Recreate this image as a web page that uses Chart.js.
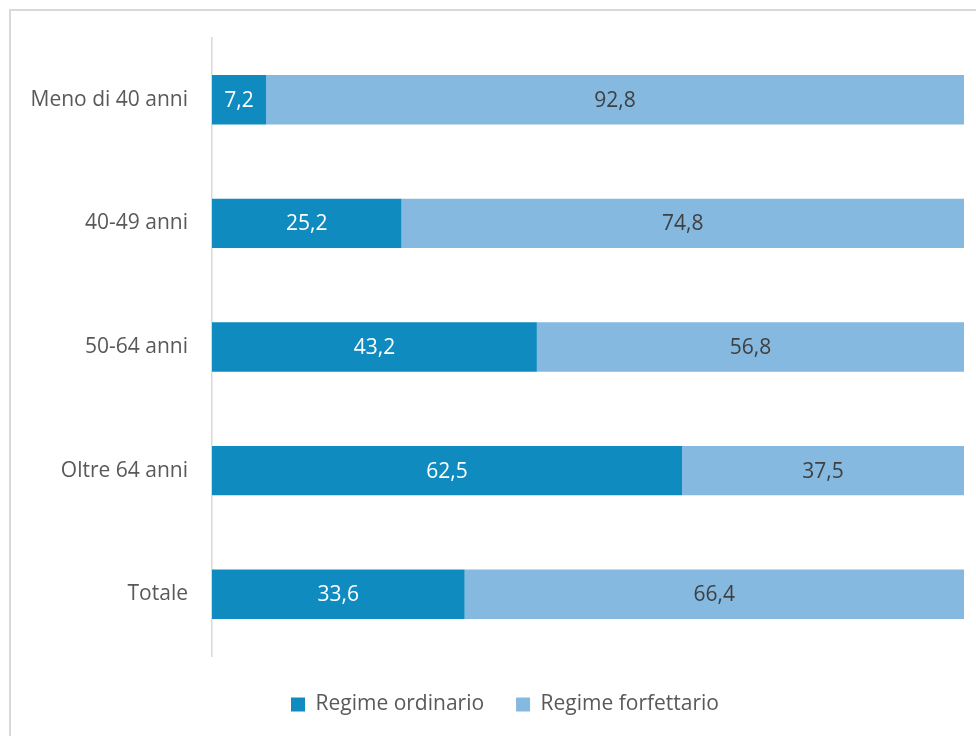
<!DOCTYPE html>
<html>
<head>
<meta charset="utf-8">
<script src="https://cdn.jsdelivr.net/npm/chart.js@4"></script>
<style>
  html, body { margin: 0; padding: 0; background: #fff; }
  #wrap { position: relative; width: 976px; height: 736px; }
</style>
</head>
<body>
<div id="wrap"><canvas id="myChart" width="976" height="736"></canvas></div>
<script>
// Data
const categories = ['Meno di 40 anni', '40-49 anni', '50-64 anni', 'Oltre 64 anni', 'Totale'];
const ordinario = [7.2, 25.2, 43.2, 62.5, 33.6];
const forfettario = [92.8, 74.8, 56.8, 37.5, 66.4];

// Style
const FONT = "'Open Sans', sans-serif";
const darkBlue = '#0f8bbf';
const lightBlue = '#85b9e0';
const textGrey = '#595959';

// Outer frame of the chart
const framePlugin = {
  id: 'frame',
  beforeDraw(chart) {
    const c = chart.ctx;
    c.save();
    c.strokeStyle = '#d9d9d9';
    c.lineWidth = 2;
    c.strokeRect(10, 10, 1200, 1200);
    c.restore();
  }
};

// Legend in the original sits a bit right of the canvas centre
const legendShift = {
  id: 'legendShift',
  afterInit(chart) {
    const legend = chart.legend;
    if (!legend) return;
    const draw = legend.draw.bind(legend);
    legend.draw = function () {
      const c = chart.ctx;
      c.save();
      c.translate(23, 0);
      draw();
      c.restore();
    };
  }
};

// Value labels in the middle of each segment
const valueLabels = {
  id: 'valueLabels',
  afterDatasetsDraw(chart) {
    const c = chart.ctx;
    c.save();
    c.font = '21px ' + FONT;
    c.textAlign = 'center';
    c.textBaseline = 'middle';
    chart.data.datasets.forEach((ds, i) => {
      chart.getDatasetMeta(i).data.forEach((bar, j) => {
        const p = bar.getProps(['x', 'y', 'base'], true);
        c.fillStyle = i === 0 ? '#ffffff' : '#404040';
        c.fillText(ds.data[j].toFixed(1).replace('.', ','), (p.x + p.base) / 2, p.y + 1);
      });
    });
    c.restore();
  }
};

const ctx = document.getElementById('myChart').getContext('2d');

const myChart = new Chart(ctx, {
  type: 'bar',
  data: {
    labels: categories,
    datasets: [
      {
        label: 'Regime ordinario',
        data: ordinario,
        backgroundColor: darkBlue,
        barPercentage: 0.4,
        categoryPercentage: 1
      },
      {
        label: 'Regime forfettario',
        data: forfettario,
        backgroundColor: lightBlue,
        barPercentage: 0.4,
        categoryPercentage: 1
      }
    ]
  },
  options: {
    indexAxis: 'y',
    responsive: false,
    animation: false,
    layout: { padding: { top: 38, right: 12, left: 0, bottom: 11 } },
    scales: {
      x: {
        stacked: true,
        min: 0,
        max: 100,
        ticks: { display: false },
        grid: { display: false },
        border: { display: false },
        afterFit(scale) { scale.height = 6; }
      },
      y: {
        stacked: true,
        grid: { display: false },
        border: { display: true, color: '#d9d9d9', width: 1.5 },
        ticks: {
          color: textGrey,
          font: { family: FONT, size: 21 },
          padding: 16
        },
        afterFit(scale) { scale.width = 212; }
      }
    },
    plugins: {
      legend: {
        position: 'bottom',
        labels: {
          color: textGrey,
          font: { family: FONT, size: 21 },
          boxWidth: 14,
          boxHeight: 14,
          padding: 32
        }
      },
      tooltip: { enabled: false }
    }
  },
  plugins: [framePlugin, legendShift, valueLabels]
});
</script>
</body>
</html>
